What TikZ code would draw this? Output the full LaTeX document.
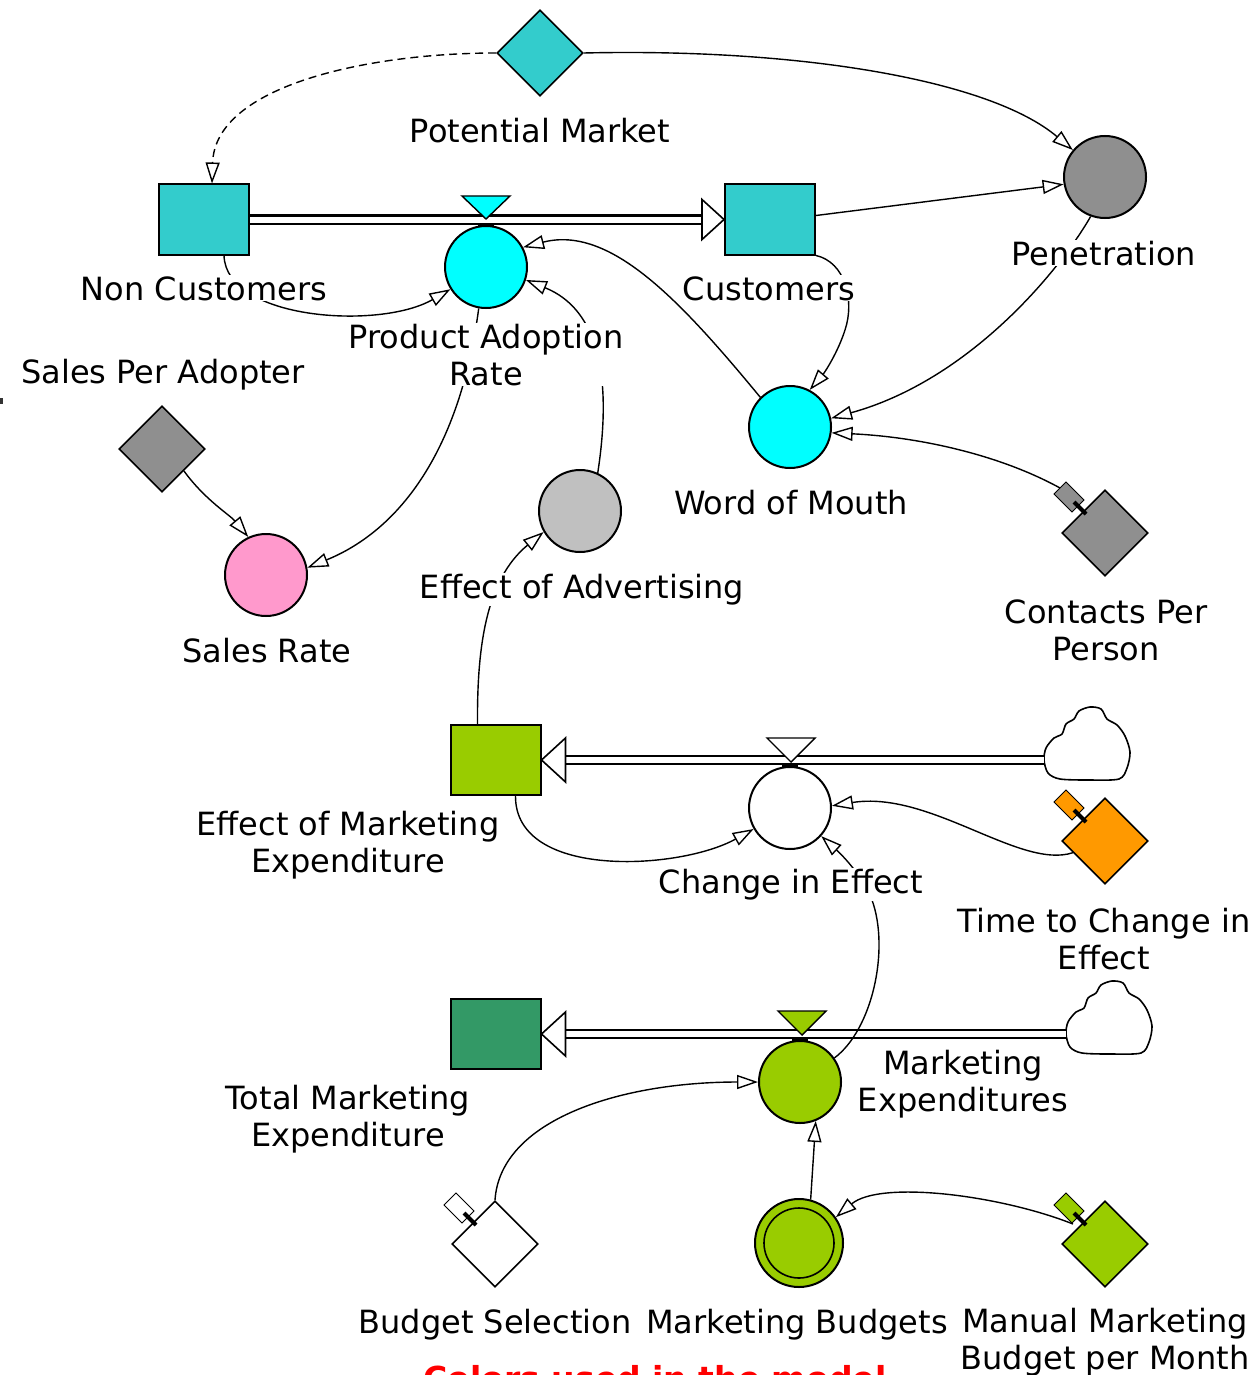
\documentclass[tikz,border=0pt]{standalone}
\usepackage{fontspec}
\setmainfont{DejaVu Sans}
\usetikzlibrary{shapes.geometric,arrows.meta,calc}
\definecolor{cTeal}{RGB}{51,204,204}
\definecolor{cCyan}{RGB}{0,255,255}
\definecolor{cGray}{RGB}{143,143,143}
\definecolor{cLGray}{RGB}{192,192,192}
\definecolor{cPink}{RGB}{255,153,204}
\definecolor{cGreen}{RGB}{153,204,0}
\definecolor{cDGreen}{RGB}{51,153,102}
\definecolor{cOrange}{RGB}{255,153,0}
\definecolor{cRed}{RGB}{255,0,0}
\tikzset{
  pics/slider/.style={code={
    \draw[line width=1pt, fill=#1] (6,-6) -- (24,12) -- (12,24) -- (-6,6) -- cycle;
    \draw[line width=4pt] (14,14) -- (26,26);
  }},
  pics/cloudpic/.style={code={
    \draw[line width=1.6pt, fill=white] plot[smooth cycle, tension=0.5] coordinates
      {(1,53) (3,41) (11,31) (19,27) (23,17) (31,12) (36,4) (47,0) (58,2) (64,12) (74,18) (82,29) (87,45) (84,61) (76,72) (46,73) (17,72) (5,66)};
  }}
}
\begin{document}
\begin{tikzpicture}[x=1pt,y=-1pt,
  lbl/.style={fill=white, inner sep=1pt, font=\fontsize{32}{37}\selectfont, align=center, anchor=base},
  stock/.style={draw, line width=2pt, rectangle, minimum width=90pt, minimum height=70pt, inner sep=0pt},
  aux/.style={draw, line width=2pt, circle, minimum size=82pt, inner sep=0pt},
  const/.style={draw, line width=1.6pt, diamond, aspect=1, minimum width=86pt, minimum height=86pt, inner sep=0pt},
  link/.style={line width=1.4pt, -{Triangle[open, length=21pt, width=14pt, line width=1.4pt]}},
  pipe/.style={line width=2.2pt, double=white, double distance=6pt},
  flowtip/.style={line width=1.6pt, fill=white},
  valve/.style={line width=1.4pt},
  ]
\clip (0,0) rectangle (1259,1375);
\fill[white] (0,0) rectangle (1259,1375);
\fill[black!80] (0,398) rectangle (3,404);

% ---------- nodes ----------
\node[const, fill=cTeal] (pm) at (540,53) {};
\node[stock, fill=cTeal] (nc) at (204,219.5) {};
\node[stock, fill=cTeal] (cu) at (770,219.5) {};
\node[aux, fill=cCyan] (par) at (486,267) {};
\node[aux, fill=cGray] (pen) at (1105,177) {};
\node[aux, fill=cCyan] (wom) at (790,427) {};
\node[const, fill=cGray] (cpp) at (1105,533) {};
\node[const, fill=cGray] (spa) at (162,449) {};
\node[aux, fill=cPink] (sr) at (266,575) {};
\node[aux, fill=cLGray] (eoa) at (580,511) {};
\node[stock, fill=cGreen] (eme) at (495.5,760) {};
\node[aux, fill=white] (cie) at (790,808) {};
\node[const, fill=cOrange] (tce) at (1105,841) {};
\node[stock, fill=cDGreen] (tme) at (495.5,1034) {};
\node[aux, fill=cGreen] (me) at (800,1082) {};
\node[const, fill=white] (bs) at (495,1244) {};
\node[aux, fill=cGreen, minimum size=88pt] (mb) at (799,1243) {};
\node[circle, draw, line width=1.6pt, minimum size=70pt, inner sep=0pt] (mbin) at (mb) {};
\node[const, fill=cGreen] (mm) at (1105,1244) {};

\coordinate (cl1) at (1044,760);
\coordinate (cl2) at (1066,1034);
\coordinate (cppPin) at ([shift={(-45,-45)}]cpp.center);
\coordinate (mmArc) at ([shift={(-32,-20)}]mm.center);

% ---------- clouds ----------
\pic at (1043,707) {cloudpic};
\pic at (1065,981) {cloudpic};

% ---------- pipes ----------
\draw[pipe] (nc.east) -- ([xshift=-22pt]cu.west);
\draw[flowtip] (cu.west) -- ([shift={(-22,-20)}]cu.west) -- ([shift={(-22,20)}]cu.west) -- cycle;
\draw[pipe] (cl1) -- ([xshift=24pt]eme.east);
\draw[flowtip] (eme.east) -- ([shift={(24,-22)}]eme.east) -- ([shift={(24,22)}]eme.east) -- cycle;
\draw[pipe] (cl2) -- ([xshift=24pt]tme.east);
\draw[flowtip] (tme.east) -- ([shift={(24,-22)}]tme.east) -- ([shift={(24,22)}]tme.east) -- cycle;

% ---------- valves ----------
\draw[valve, fill=cCyan] ([shift={(-24,-29)}]par.north) -- ([shift={(24,-29)}]par.north) -- ([shift={(0,-6)}]par.north) -- cycle;
\draw[line width=3pt] ([xshift=-8pt]par.north) -- ([xshift=8pt]par.north);
\draw[valve, fill=white] ([shift={(-23,-28)}]cie.north) -- ([shift={(25,-28)}]cie.north) -- ([shift={(1,-4)}]cie.north) -- cycle;
\draw[line width=3pt] ([xshift=-8pt]cie.north) -- ([xshift=8pt]cie.north);
\draw[valve, fill=cGreen] ([shift={(-22,-29)}]me.north) -- ([shift={(26,-29)}]me.north) -- ([shift={(2,-5)}]me.north) -- cycle;
\draw[line width=3pt] ([xshift=-8pt]me.north) -- ([xshift=8pt]me.north);

% ---------- links ----------
\draw[link, dash pattern=on 8pt off 5pt] (pm.west) .. controls (370,53) and (215,85) .. ([xshift=8pt]nc.north);
\draw[link] (pm.east) .. controls (800,48) and (990,80) .. (pen.140);
\draw[link] ([yshift=4pt]cu.east) -- (pen.190);
\draw[link] ([xshift=20pt]nc.south) .. controls (226,320) and (380,330) .. (par.212);
\draw[link] (wom.135) .. controls (680,300) and (610,225) .. (par.28);
\draw[link] (eoa.65) .. controls (612,380) and (600,310) .. (par.-18);
\draw[link] (par.-100) .. controls (460,450) and (400,530) .. (sr.10);
\draw[link] (spa.-45) .. controls (205,500) and (230,515) .. (sr.115);
\draw[link] (cu.south east) .. controls (845,262) and (855,300) .. (845,330) .. controls (838,352) and (825,372) .. (wom.62);
\draw[link] (pen.-110) .. controls (1060,270) and (970,380) .. (wom.12);
\draw[link] (cppPin) .. controls (1000,455) and (920,437) .. (wom.-8);
\draw[link] ([xshift=-18pt]eme.north) .. controls (477,650) and (485,580) .. (eoa.-150);
\draw[link] ([xshift=20pt]eme.south) .. controls (515,880) and (680,870) .. (cie.-150);
\draw[link] (tce.200) .. controls (1020,870) and (930,790) .. (cie.3);
\draw[link] (me.35) .. controls (872,1030) and (890,950) .. (872,900) .. controls (862,875) and (842,855) .. (cie.-42);
\draw[link] (bs.north) .. controls (500,1120) and (620,1082) .. (me.west);
\draw[link] (mb.75) -- (me.-68);
\draw[link] (mmArc) .. controls (1000,1195) and (880,1180) .. (mb.35);

% ---------- sliders ----------
\pic at (cppPin) {slider=cGray};
\pic at ([shift={(-45,-45)}]tce.center) {slider=cOrange};
\pic at ([shift={(-45,-45)}]bs.center) {slider=white};
\pic at ([shift={(-45,-45)}]mm.center) {slider=cGreen};

% ---------- labels (base = baseline of last line) ----------
\node[lbl] (pmL) at (540,143) {Potential Market};
\node[lbl] (ncL) at (204,300) {Non Customers};
\node[lbl] (cuL) at (769,300) {Customers};
\node[lbl] (parL) at (486,385) {Product Adoption\\Rate};
\node[lbl] (penL) at (1104,265) {Penetration};
\node[lbl] (spaL) at (163,383) {Sales Per Adopter};
\node[lbl] (womL) at (791,514) {Word of Mouth};
\node[lbl] (eoaL) at (582,598) {Effect of Advertising};
\node[lbl] (cppL) at (1106,660) {Contacts Per\\Person};
\node[lbl] (srL) at (267,662) {Sales Rate};
\node[lbl] (emeL) at (348,872) {Effect of Marketing\\Expenditure};
\node[lbl] (cieL) at (791,893) {Change in Effect};
\node[lbl] (tceL) at (1104,969) {Time to Change in\\Effect};
\node[lbl] (tmeL) at (348,1146) {Total Marketing\\Expenditure};
\node[lbl] (meL) at (963,1111) {Marketing\\Expenditures};
\node[lbl] (bsL) at (495,1333) {Budget Selection};
\node[lbl] (mbL) at (797,1333) {Marketing Budgets};
\node[lbl] (mmL) at (1105,1369) {Manual Marketing\\Budget per Month};
\node[lbl, text=cRed, font=\bfseries\fontsize{33}{38}\selectfont] (redL) at (655,1390) {Colors used in the model};
\end{tikzpicture}
\end{document}
